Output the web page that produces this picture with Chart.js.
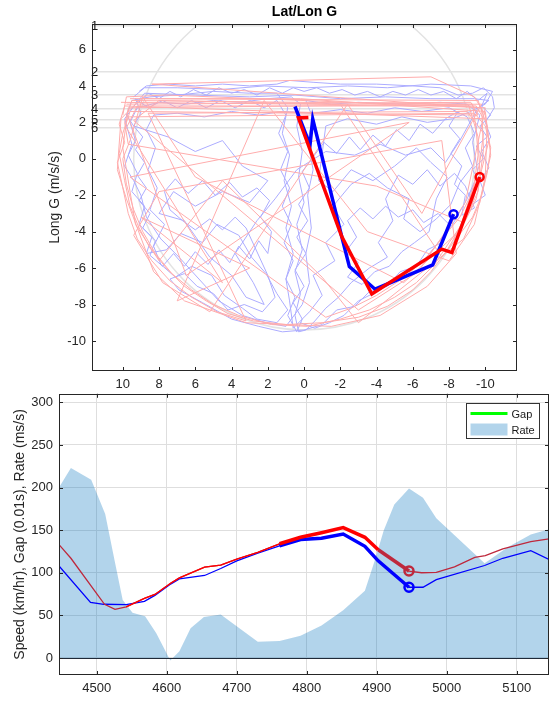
<!DOCTYPE html>
<html>
<head>
<meta charset="utf-8">
<script src="https://cdn.jsdelivr.net/npm/chart.js@4.4.1/dist/chart.umd.min.js"></script>
<style>
  body { margin: 0; background: #fff; width: 556px; height: 703px; position: relative; overflow: hidden; }
  canvas { position: absolute; left: 0; }
  #gg { top: 0; }
  #speed { top: 380px; }
</style>
</head>
<body>
<canvas id="gg" width="556" height="395"></canvas>
<canvas id="speed" width="556" height="323"></canvas>
<script>
// ---- Lat/Lon G panel ----
const gTicksX = [10, 8, 6, 4, 2, 0, -2, -4, -6, -8, -10];
const gTicksY = [6, 4, 2, 0, -2, -4, -6, -8, -10];
const refLevels = [7.3, 4.78, 3.52, 2.75, 2.14, 1.7];
const refNames = ["1", "2", "3", "4", "5", "6"];
const circleR = 9.4;

// [lat, long] pairs
const blueTrace = [
  [9.1,3.7],[8.7,4.0],[7.5,4.1],[6.0,4.0],[4.5,4.1],[3.0,4.0],[1.5,4.1],[0.8,4.3],[-0.5,4.2],[-2.0,4.1],[-4.0,4.1],[-6.0,4.0],
  [-7.5,3.9],[-8.5,3.5],[-9.3,3.6],[-9.9,3.9],[-10.4,3.4],[-10.5,2.8],[-10.0,2.0],[-10.3,1.2],[-9.8,0.4],[-10.2,-0.5],[-9.7,-1.2],
  [-10.0,-2.0],[-9.3,-2.5],[-8.9,-1.5],[-8.3,-0.8],[-7.5,-1.5],[-6.8,-0.6],[-6.0,-1.4],[-5.2,-0.9],[-4.5,-2.2],[-4.9,-3.4],
  [-4.1,-4.6],[-4.6,-5.4],[-3.6,-6.0],[-2.6,-6.8],[-1.9,-7.6],[-1.2,-8.2],[-0.6,-8.9],[-0.1,-9.4],[0.3,-9.5],[0.5,-8.6],
  [0.2,-7.4],[0.5,-6.2],[0.1,-5.0],[0.4,-3.6],[0.0,-2.4],[0.3,-1.0],[0.1,0.4],[0.4,1.8],[0.2,3.0],[0.7,3.4],[2.0,3.3],
  [3.5,3.1],[5.0,3.2],[6.5,3.0],[8.0,3.1],[9.2,2.8],[9.6,2.0],[9.3,1.0],[9.7,0.2],[9.2,-0.8],[9.5,-1.8],[8.8,-2.6],[9.1,-3.6],
  [8.4,-4.3],[8.7,-5.2],[7.6,-5.0],[6.8,-4.1],[5.6,-4.6],[4.8,-3.6],[3.6,-4.2],[2.9,-5.4],[2.1,-6.3],[1.5,-7.4],[0.9,-8.3],
  [1.5,-9.0],[2.6,-8.8],[3.4,-8.2],[4.4,-7.5],[5.1,-6.4],[6.2,-5.9],[7.1,-6.5],[7.9,-5.8],[8.3,-4.8],[7.7,-3.6],[8.5,-2.8],
  [8.1,-1.6],[8.6,-0.6],[8.2,0.6],[8.7,1.6],[8.3,2.4],[7.0,2.5],[5.5,2.3],[4.0,2.6],[2.5,2.4],[1.2,2.6],[-0.5,2.5],[-2.0,2.7],
  [-3.5,2.5],[-5.0,2.8],[-6.5,2.6],[-8.0,2.8],[-9.0,2.3],[-9.4,1.4],[-8.9,0.6],[-9.3,-0.4],[-8.6,-1.3],[-8.1,-2.5],[-7.3,-3.3],
  [-6.4,-4.0],[-5.5,-3.3],[-5.8,-2.2],[-4.6,-1.6],[-3.6,-0.8],[-2.6,-1.4],[-1.6,-2.6],[-2.2,-3.6],[-1.2,-4.6],[-1.7,-5.6],
  [-0.5,-6.4],[-1.0,-7.5],[-0.3,-8.4],[0.6,-9.3],[0.8,-7.8],[1.0,-6.6],[0.6,-5.2],[1.0,-3.8],[0.7,-2.6],[1.1,-1.2],[0.8,0.2],
  [1.2,1.4],[0.9,2.8],[1.5,3.6],[3.0,3.6],[5.0,3.7],[7.0,3.5],[8.5,3.4],[9.5,3.2],[9.8,2.4],[9.4,1.8],[7.5,1.2],[6.0,0.4],
  [4.5,1.0],[3.4,-0.4],[2.0,-1.2],[3.0,-2.4],[4.5,-1.8],[6.0,-2.6],[7.2,-1.8],[8.0,-3.0],[6.6,-3.4],[5.2,-5.4],[4.0,-6.4],
  [3.2,-7.6],[2.2,-8.0],[2.8,-6.8],[3.8,-5.2],[2.6,-3.4],[1.6,-2.2],[0.4,-0.6],[-1.2,0.4],[-2.8,0.2],[-4.2,0.8],[-5.6,0.2],
  [-7.0,0.6],[-7.8,-0.2],[-8.6,1.0],[-9.6,2.8],[-10.2,3.2],[-9.4,3.3],[-7.0,3.3],[-4.5,3.4],[-2.0,3.3],[0.5,3.5],[3.0,3.4],
  [6.0,3.5],[8.8,3.6],[9.3,3.0],[9.9,2.2],[9.5,0.8],[9.9,-0.4],[9.4,-1.2],[9.0,-2.0],[8.7,-3.2],[7.9,-4.4],[6.9,-5.4],
  [5.8,-6.6],[4.7,-7.8],[3.4,-8.6],[2.1,-9.0],[1.0,-9.2],[0.1,-8.0],[-0.3,-6.8],[-0.1,-5.2],[-0.4,-3.8],[-0.2,-2.0],
  [-0.5,-0.6],[-0.2,1.0],[-0.5,2.2],[-0.1,3.2],[-1.5,3.0],[-3.0,3.1],[-5.5,3.0],[-7.5,3.1],[-9.0,3.0],[-9.7,2.4],[-9.3,0.9],
  [-9.6,-0.8],[-9.0,-2.2],[-8.2,-3.6],[-7.4,-4.6],[-6.6,-5.6],[-5.4,-6.4],[-4.2,-7.2],[-3.0,-7.8],[-2.2,-8.6],[-1.4,-9.0],
  [-0.6,-9.3],[0.2,-9.0]
];

const blueTrace2 = [
  [9.0,3.2],[8.6,3.6],[8.0,3.3],[7.4,3.7],[6.8,3.4],[6.1,3.8],[5.4,3.5],[4.7,3.9],[4.0,3.6],[3.3,3.8],[2.6,3.5],[1.9,3.9],
  [1.2,3.6],[0.6,3.9],[0.0,3.7],[-0.7,3.9],[-1.4,3.6],[-2.1,3.8],[-2.8,3.5],[-3.5,3.7],[-4.2,3.4],[-4.9,3.7],[-5.6,3.5],
  [-6.3,3.8],[-7.0,3.5],[-7.7,3.7],[-8.4,3.3],[-9.0,3.7],[-9.6,3.2],[-10.1,3.6],[-9.8,2.9],[-10.3,2.4],[-9.7,1.8],[-10.1,1.2],
  [-9.5,0.7],[-9.9,0.0],[-9.3,-0.6],[-9.7,-1.3],[-9.1,-1.9],[-9.4,-2.7],[-8.7,-3.1],[-8.9,-2.0],[-8.3,-1.4],[-8.7,-0.4],
  [-8.1,0.3],[-8.6,1.1],[-8.0,1.8],[-8.5,2.6],[-7.8,2.2],[-7.1,1.4],[-6.4,1.9],[-5.8,1.0],[-5.1,1.6],[-4.5,0.7],[-3.8,1.3],
  [-3.1,0.5],[-2.5,1.2],[-1.8,0.3],[-1.1,0.9],[-0.5,0.1],[0.1,-0.7],[-0.3,-1.6],[0.3,-2.5],[-0.2,-3.4],[0.4,-4.3],[-0.1,-5.2],
  [0.5,-6.1],[0.0,-7.0],[0.6,-7.9],[0.1,-8.8],[0.4,-9.5],[0.9,-8.6],[0.5,-7.6],[1.0,-6.6],[0.6,-5.6],[1.1,-4.6],[0.7,-3.6],
  [1.2,-2.6],[0.8,-1.6],[1.3,-0.6],[0.9,0.4],[1.4,1.4],[1.0,2.4],[1.5,3.2],[2.2,2.8],[3.0,3.2],[3.8,2.8],[4.6,3.2],[5.4,2.8],
  [6.2,3.2],[7.0,2.8],[7.8,3.2],[8.6,2.8],[9.3,3.3],[9.0,2.5],[9.4,1.8],[8.9,1.2],[9.3,0.5],[8.8,-0.2],[9.2,-0.9],[8.7,-1.6],
  [9.1,-2.3],[8.5,-3.0],[8.9,-3.8],[8.2,-4.5],[8.5,-5.3],[7.8,-5.9],[7.2,-5.2],[6.6,-5.9],[6.0,-5.1],[5.3,-5.8],[4.7,-5.0],
  [4.1,-5.7],[3.6,-4.8],[3.0,-5.5],[2.5,-4.5],[2.0,-5.2],[1.8,-4.0],[2.4,-3.2],[1.9,-2.3],[2.6,-1.6],[3.4,-2.1],[4.1,-1.3],
  [4.9,-2.0],[5.6,-1.2],[6.4,-1.9],[7.1,-1.1],[7.7,-1.8],[7.4,-2.8],[6.7,-3.4],[6.0,-3.9],[5.2,-3.3],[4.5,-3.9],[3.8,-3.2],
  [3.2,-3.8],[2.0,-6.4],[1.6,-7.6],[2.3,-8.4],[3.3,-8.0],[4.2,-8.3],[5.0,-7.4],[5.9,-7.0],[6.6,-6.3],[7.4,-6.6],[6.9,-7.2],
  [5.6,-7.9],[4.0,-8.8],[2.5,-9.2],[1.2,-9.5],[0.0,-9.4],[-1.0,-9.1],[-1.8,-8.3],[-2.8,-8.1],[-3.6,-7.3],[-4.6,-7.0],
  [-5.3,-6.2],[-6.2,-5.9],[-6.8,-5.0],[-7.6,-4.6],[-8.0,-3.6],[-7.4,-3.0],[-6.6,-3.5],[-6.0,-2.8],[-5.2,-3.2],[-4.5,-2.6],
  [-3.8,-3.3],[-3.1,-2.7],[-2.4,-3.4],[-2.9,-4.3],[-2.3,-5.1],[-3.0,-5.7],[-2.4,-6.5],[-3.2,-6.9],[-3.9,-6.2],[-4.7,-5.9],
  [-5.4,-5.1],[-6.1,-4.6],[-6.9,-4.0],[-7.3,-2.2],[-7.9,-1.0],[-7.0,-0.2],[-6.2,0.6],[-5.0,-0.4],[-3.8,-1.2],[-2.6,-0.6],
  [-1.6,-1.8],[-0.8,-1.2],[-1.2,1.8],[-2.4,2.2],[-4.0,1.9],[-5.4,2.3],[-6.8,2.0],[-8.2,2.2],[-9.2,2.6],[-10.0,3.0],
  [-10.4,3.7],[-9.2,4.0],[-7.0,4.1],[-4.6,3.9],[-2.4,4.0],[-0.2,3.9],[2.2,4.0],[4.6,3.8],[7.0,3.9],[8.8,3.9],[9.4,3.4]
];

const pinkTrace = [
  [9.8,3.0],[-9.2,3.1],[-9.6,2.4],[9.6,2.6],[10.0,1.4],[10.2,0.3],[9.9,-1.2],[9.6,-2.6],[9.1,-3.8],[8.5,-4.9],[7.6,-6.0],
  [6.6,-7.0],[5.4,-7.8],[4.2,-8.5],[2.8,-8.9],[1.0,-9.1],[-1.0,-9.0],[-3.0,-8.7],[-4.6,-8.1],[-6.0,-7.2],[-7.0,-6.2],
  [-7.9,-5.0],[-8.6,-3.8],[-9.0,-2.6],[-9.4,-1.3],[-9.6,0.2],[-9.5,1.6],[-9.3,3.0],[9.5,3.2],[9.9,2.0],[9.7,0.8],[-4.0,-1.5],
  [-8.8,-3.5],[-9.6,-1.8],[-9.9,0.5],[-9.8,2.8],[8.4,4.1],[-7.0,4.5],[-9.4,3.4],[-10.0,2.4],[-10.2,1.0],[-9.8,-0.6],
  [-9.5,-2.2],[-8.9,-3.4],[-8.0,-4.6],[-7.2,-5.8],[-6.2,-6.8],[-5.0,-7.6],[-3.6,-8.3],[-2.0,-8.8],[-0.2,-9.2],[1.8,-9.1],
  [3.6,-8.6],[5.0,-8.0],[6.2,-7.2],[7.3,-6.3],[8.2,-5.2],[8.9,-4.0],[9.4,-2.8],[9.8,-1.4],[10.0,0.0],[9.6,1.0],[8.9,3.4],
  [6.0,-1.0],[-5.5,-6.8],[-8.3,-4.2],[-9.2,-2.8],[-9.7,-0.8],[-9.6,1.2],[-9.1,2.9],[9.2,2.9],[9.8,1.7],[4.5,-6.8],[9.0,-3.2],
  [3.0,-6.0],[7.0,-7.8],[2.2,3.2],[-3.5,-4.0],[-8.0,-5.6],[-9.4,-3.6],[-10.0,-1.0],[-10.1,1.8],[-9.6,3.2],[9.0,3.3],
  [10.1,2.2],[10.3,-0.6],[9.8,-2.2],[8.3,-6.2],[6.6,-7.8],[3.2,-9.0],[-1.5,-9.2],[-4.2,-8.6],[-6.8,-7.0],[-8.4,-5.2],
  [-7.6,1.0],[8.0,-1.8],[9.4,-4.2],[7.8,-6.8],[5.2,-8.4],[-2.4,3.0],[-6.5,-3.0],[-9.8,3.0],[9.7,2.8],[10.0,0.6],[9.3,-3.6],
  [8.0,-5.6],[4.5,-1.2],[-1.0,-6.5],[-3.0,-9.0],[-8.8,-4.4],[-9.7,-2.4],[-10.3,0.2],[-10.0,2.6],[0.2,3.3],[9.6,3.3]
];

const pinkTrace2 = [
  [10.1,3.1],[-9.5,2.9],[-9.9,2.2],[9.9,2.9],[10.2,1.9],[9.9,0.9],[10.3,-0.2],[10.0,-1.6],[9.7,-3.0],[9.2,-4.4],[8.4,-5.6],
  [7.4,-6.7],[6.2,-7.6],[4.8,-8.4],[3.2,-8.9],[8.6,2.5],[-9.0,2.6],[-9.9,1.4],[-9.7,-0.2],[-9.3,-1.8],[-8.6,-3.2],[-7.6,-4.4],
  [-6.6,-5.6],[-5.4,-6.6],[-4.0,-7.5],[-2.6,-8.2],[-1.2,-8.7],[9.6,-1.0],[-5.8,2.0],[6.5,-6.4],[9.7,2.3],[-9.4,2.5],
  [-10.0,1.8],[-10.3,0.6],[-10.1,-0.8],[-9.8,-2.0],[-9.3,-3.2],[-8.4,-4.4],[-7.6,-5.4],[-2.0,3.0],[8.0,3.2],[9.4,2.1],
  [-3.0,-8.3],[-6.3,-6.2],[-8.9,-2.4],[-10.0,2.8],[7.6,3.5],[9.8,3.4],[10.0,2.4]
];

const blueBold = [[0.5,2.87],[-0.33,0.77],[-0.48,2.18],[-2.08,-4.27],[-2.5,-5.92],[-3.92,-7.16],[-7.1,-5.82],[-8.25,-3.04]];
const redBold = [[-0.24,2.27],[0.31,2.24],[-2.08,-4.27],[-3.74,-7.42],[-7.6,-4.96],[-8.16,-5.15],[-9.69,-1.0]];

// ---- Speed panel ----
const distTicks = [4500, 4600, 4700, 4800, 4900, 5000, 5100];
const speedTicks = [0, 50, 100, 150, 200, 250, 300];

const rateDist = [4446, 4463, 4492, 4512, 4526, 4537, 4551, 4569, 4585, 4605, 4618, 4634, 4653, 4677, 4730, 4761,
  4791, 4821, 4852, 4883, 4897, 4910, 4925, 4946, 4966, 4985, 5054, 5087, 5120, 5146];
const rate = [200, 223, 209, 169, 112, 68, 53, 49, 29, -3, 8, 35, 48, 51, 19, 20,
  26, 38, 56, 79, 114, 150, 180, 199, 188, 164, 111, 130, 145, 151];

const redDist = [4446, 4463, 4511, 4526, 4542, 4568, 4583, 4606, 4618, 4654, 4677, 4700, 4730, 4761,
  4791, 4821, 4852, 4883, 4902, 4946, 4964, 4985, 5011, 5040, 5055, 5080, 5120, 5146];
const redSpeed = [133, 117, 63, 57, 60, 70, 74.5, 88, 94, 106.5, 109, 116, 124, 134,
  141.6, 147, 153, 141.6, 127, 102, 100, 100.5, 107, 118, 120, 128, 136.5, 139.7];

const blueDist = [4446, 4491, 4510, 4542, 4568, 4583, 4606, 4618, 4654, 4677, 4700, 4730, 4761,
  4791, 4821, 4852, 4883, 4902, 4946, 4966, 4985, 5054, 5080, 5120, 5146];
const blueSpeed = [108, 65.3, 63, 62.6, 66.5, 73.5, 87, 92.7, 96.8, 105, 114, 123, 131.5,
  139, 140.4, 145.4, 131, 114, 83, 83, 92, 108.5, 117, 126, 115.5];

const gap = [];

Chart.defaults.font.family = '"Liberation Sans", Arial, sans-serif';
Chart.defaults.color = "#262626";

const toPts = arr => arr.map(p => ({ x: p[0], y: p[1] }));
const sub = (xs, ys, lo, hi) => xs.map((x, i) => ({ x: x, y: ys[i] })).filter(p => p.x >= lo && p.x <= hi);
const lastDot = r => ctx => (ctx.dataIndex === ctx.dataset.data.length - 1 ? r : 0);

const framePlugin = {
  id: "frame",
  afterDraw(chart) {
    const { ctx, chartArea: a, scales } = chart;
    ctx.save();
    ctx.strokeStyle = "#262626";
    ctx.lineWidth = 1;
    ctx.beginPath();
    scales.x.ticks.forEach(t => {
      const px = Math.round(scales.x.getPixelForValue(t.value)) + 0.5;
      ctx.moveTo(px, a.top); ctx.lineTo(px, a.top + 4);
      ctx.moveTo(px, a.bottom); ctx.lineTo(px, a.bottom - 4);
    });
    scales.y.ticks.forEach(t => {
      const py = Math.round(scales.y.getPixelForValue(t.value)) + 0.5;
      ctx.moveTo(a.left, py); ctx.lineTo(a.left + 4, py);
      ctx.moveTo(a.right, py); ctx.lineTo(a.right - 4, py);
    });
    ctx.stroke();
    ctx.strokeRect(Math.round(a.left) + 0.5, Math.round(a.top) + 0.5, Math.round(a.width) - 1, Math.round(a.height) - 1);
    ctx.restore();
  }
};

const gGuides = {
  id: "gGuides",
  beforeDatasetsDraw(chart) {
    const { ctx, chartArea: a, scales: { x, y } } = chart;
    ctx.save();
    ctx.beginPath();
    ctx.rect(a.left, a.top, a.width, a.height);
    ctx.clip();
    ctx.strokeStyle = "#e3e3e3";
    ctx.lineWidth = 1.5;
    refLevels.forEach(v => {
      const py = y.getPixelForValue(v);
      ctx.beginPath(); ctx.moveTo(a.left, py); ctx.lineTo(a.right, py); ctx.stroke();
    });
    const cx = x.getPixelForValue(0), cy = y.getPixelForValue(0);
    const rx = Math.abs(x.getPixelForValue(circleR) - cx), ry = Math.abs(y.getPixelForValue(circleR) - cy);
    ctx.beginPath();
    ctx.ellipse(cx, cy, rx, ry, 0, 0, Math.PI * 2);
    ctx.stroke();
    ctx.restore();
  },
  afterDraw(chart) {
    const { ctx, chartArea: a, scales: { y } } = chart;
    ctx.save();
    ctx.fillStyle = "#1a1a1a";
    ctx.font = '13px "Liberation Sans", Arial, sans-serif';
    ctx.textAlign = "left";
    ctx.textBaseline = "middle";
    refLevels.forEach((v, i) => ctx.fillText(refNames[i], a.left - 1, y.getPixelForValue(v) + 1));
    ctx.fillStyle = "#000";
    ctx.font = 'bold 14px "Liberation Sans", Arial, sans-serif';
    ctx.textAlign = "center";
    ctx.fillText("Lat/Lon G", (a.left + a.right) / 2, 12);
    ctx.restore();
  }
};

const traceBlue = "rgb(172,172,255)";
const tracePink = "rgb(255,172,172)";

new Chart(document.getElementById("gg"), {
  type: "scatter",
  data: {
    datasets: [
      { data: toPts(redBold), showLine: true, borderColor: "#ff0000", borderWidth: 3.5, pointRadius: lastDot(4),
        pointBorderColor: "#ff0000", pointBorderWidth: 2.5, pointBackgroundColor: "rgba(0,0,0,0)", order: 0 },
      { data: toPts(blueBold), showLine: true, borderColor: "#0000ff", borderWidth: 3.5, pointRadius: lastDot(4),
        pointBorderColor: "#0000ff", pointBorderWidth: 2.5, pointBackgroundColor: "rgba(0,0,0,0)", order: 1 },
      { data: toPts(pinkTrace), showLine: true, borderColor: tracePink, borderWidth: 1, pointRadius: 0, order: 2 },
      { data: toPts(pinkTrace2), showLine: true, borderColor: tracePink, borderWidth: 1, pointRadius: 0, order: 2 },
      { data: toPts(blueTrace), showLine: true, borderColor: traceBlue, borderWidth: 1, pointRadius: 0, order: 3 },
      { data: toPts(blueTrace2), showLine: true, borderColor: traceBlue, borderWidth: 1, pointRadius: 0, order: 3 }
    ]
  },
  options: {
    responsive: false,
    animation: false,
    layout: { padding: { top: 24, right: 39, left: 0, bottom: 0 } },
    plugins: { legend: { display: false }, tooltip: { enabled: false } },
    scales: {
      x: {
        type: "linear", reverse: true, min: -11.75, max: 11.7,
        afterBuildTicks: s => { s.ticks = gTicksX.map(v => ({ value: v })); },
        afterFit: s => { s.height = 24; },
        grid: { display: false, drawTicks: false },
        border: { display: false },
        ticks: { padding: 6, font: { size: 13 }, maxRotation: 0, callback: v => String(v) }
      },
      y: {
        type: "linear", min: -11.65, max: 7.4,
        afterBuildTicks: s => { s.ticks = gTicksY.map(v => ({ value: v })); },
        afterFit: s => { s.width = 92; },
        grid: { display: false, drawTicks: false },
        border: { display: false },
        ticks: { padding: 6, font: { size: 13 }, callback: v => String(v) },
        title: { display: true, text: "Long G (m/s/s)", font: { size: 14 }, padding: { top: 47, bottom: 0 } }
      }
    }
  },
  plugins: [gGuides, framePlugin]
});

const speedExtras = {
  id: "speedExtras",
  afterDatasetsDraw(chart) {
    const { ctx, chartArea: a, scales: { y } } = chart;
    const py = Math.round(y.getPixelForValue(0)) + 0.5;
    ctx.save();
    ctx.strokeStyle = "#1f2a38";
    ctx.lineWidth = 1;
    ctx.beginPath(); ctx.moveTo(a.left, py); ctx.lineTo(a.right, py); ctx.stroke();

    // legend box
    const w = 73, h = 35, bx = Math.round(a.right - 10 - w) + 0.5, by = Math.round(a.top + 9) + 0.5;
    ctx.fillStyle = "#fff";
    ctx.fillRect(bx, by, w, h);
    ctx.strokeStyle = "#333";
    ctx.strokeRect(bx, by, w, h);
    ctx.font = '11px "Liberation Sans", Arial, sans-serif';
    ctx.textBaseline = "middle";
    ctx.textAlign = "left";
    const items = chart.data.datasets.filter(d => d.label);
    items.forEach((d, i) => {
      const cy = by + 10 + i * 16;
      if (d.fill) {
        ctx.fillStyle = d.backgroundColor;
        ctx.fillRect(bx + 4, cy - 6, 37, 12);
      } else {
        ctx.strokeStyle = d.borderColor;
        ctx.lineWidth = d.borderWidth;
        ctx.beginPath(); ctx.moveTo(bx + 4, cy); ctx.lineTo(bx + 41, cy); ctx.stroke();
      }
      ctx.fillStyle = "#1a1a1a";
      ctx.fillText(d.label, bx + 45, cy + 1);
    });
    ctx.restore();
  }
};

const darkRed = "rgb(190,40,60)";

new Chart(document.getElementById("speed"), {
  type: "line",
  data: {
    datasets: [
      { data: sub(redDist, redSpeed, 4761, 4902), borderColor: "#ff0000", borderWidth: 3.5, pointRadius: 0, order: 1 },
      { data: sub(redDist, redSpeed, 4902, 4946), borderColor: darkRed, borderWidth: 3.5, pointRadius: lastDot(4.5),
        pointBorderColor: darkRed, pointBorderWidth: 2.5, pointBackgroundColor: "rgba(0,0,0,0)", order: 1 },
      { data: sub(blueDist, blueSpeed, 4761, 4946), borderColor: "#0000ff", borderWidth: 3.5, pointRadius: lastDot(4.5),
        pointBorderColor: "#0000ff", pointBorderWidth: 2.5, pointBackgroundColor: "rgba(0,0,0,0)", order: 2 },
      { data: sub(redDist, redSpeed, 4542, 4761), borderColor: "#ff0000", borderWidth: 1.3, pointRadius: 0, order: 3 },
      { data: sub(redDist, redSpeed, 0, 99999), borderColor: darkRed, borderWidth: 1.3, pointRadius: 0, order: 4 },
      { data: sub(blueDist, blueSpeed, 0, 99999), borderColor: "#0000ff", borderWidth: 1.3, pointRadius: 0, order: 5 },
      { label: "Gap", data: gap, borderColor: "#00ff00", borderWidth: 3, pointRadius: 0, order: 6 },
      { label: "Rate", data: sub(rateDist, rate, 0, 99999), fill: "origin", backgroundColor: "rgba(0,114,189,0.3)",
        borderWidth: 0, borderColor: "rgba(0,0,0,0)", pointRadius: 0, order: 7 }
    ]
  },
  options: {
    responsive: false,
    animation: false,
    layout: { padding: { top: 13, right: 6, left: 0, bottom: 0 } },
    plugins: { legend: { display: false }, tooltip: { enabled: false } },
    elements: { line: { tension: 0 } },
    scales: {
      x: {
        type: "linear", min: 4446, max: 5146,
        afterBuildTicks: s => { s.ticks = distTicks.map(v => ({ value: v })); },
        afterFit: s => { s.height = 28; },
        grid: { color: "#dedede", drawTicks: false },
        border: { display: false },
        ticks: { padding: 6, font: { size: 13 }, maxRotation: 0, callback: v => String(v) }
      },
      y: {
        type: "linear", min: -20, max: 310,
        afterBuildTicks: s => { s.ticks = speedTicks.map(v => ({ value: v })); },
        afterFit: s => { s.width = 59; },
        grid: { color: "#dedede", drawTicks: false },
        border: { display: false },
        ticks: { padding: 6, font: { size: 13 }, callback: v => String(v) },
        title: { display: true, text: "Speed (km/hr), Gap (0.01s), Rate (ms/s)", font: { size: 14 }, padding: { top: 12, bottom: 0 } }
      }
    }
  },
  plugins: [speedExtras, framePlugin]
});
</script>
</body>
</html>
